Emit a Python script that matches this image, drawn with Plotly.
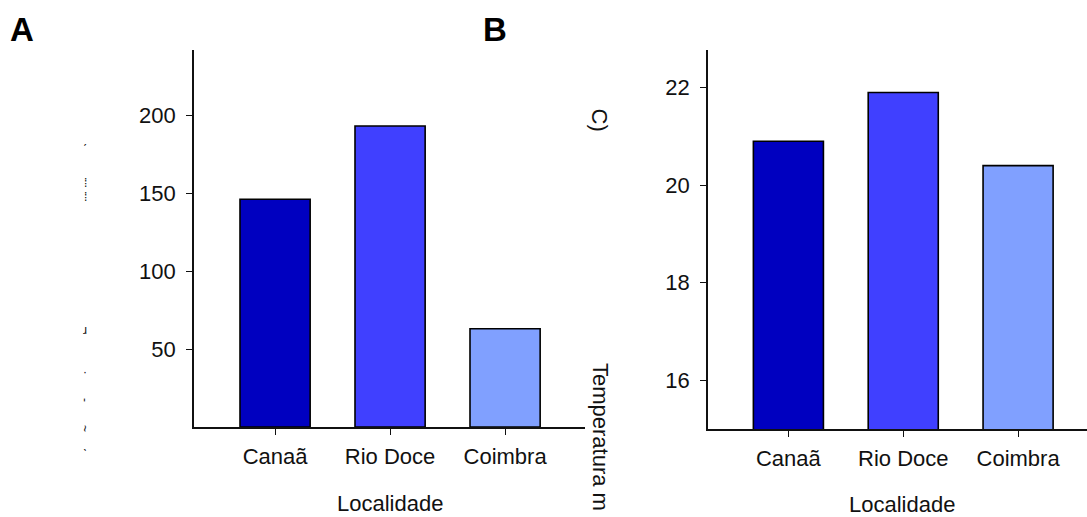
import plotly.graph_objects as go

# Localities and measured values
localidades = ["Canaã", "Rio Doce", "Coimbra"]
valores_a = [146, 193, 63]          # panel A
temperatura_b = [20.9, 21.9, 20.4]  # panel B, mean temperature (°C)
cores = ["#0000C0", "#4040FF", "#80A0FF"]

ticks_a = [50, 100, 150, 200]
ticks_b = [16, 18, 20, 22]

W, H = 1087, 517
FONT = "Liberation Sans, Arial, sans-serif"
FS = 22


def px_x(p):
    return p / W


def px_y(p):
    return (H - p) / H


fig = go.Figure()

fig.add_trace(go.Bar(
    x=localidades, y=valores_a, xaxis="x", yaxis="y",
    marker=dict(color=cores, line=dict(color="black", width=1.6)),
    width=0.61, showlegend=False,
))
fig.add_trace(go.Bar(
    x=localidades, y=temperatura_b, xaxis="x2", yaxis="y2",
    marker=dict(color=cores, line=dict(color="black", width=1.6)),
    width=0.61, showlegend=False,
))

axis_common = dict(
    showgrid=False, zeroline=False, showline=True, linecolor="#111111",
    linewidth=1.6, ticks="outside", ticklen=6, tickwidth=1.2,
    tickcolor="#111111", tickfont=dict(family=FONT, size=FS, color="#111111"),
)

fig.update_layout(
    width=W, height=H,
    margin=dict(l=0, r=0, t=0, b=0),
    paper_bgcolor="white", plot_bgcolor="white",
    font=dict(family=FONT, color="#111111"),
    bargap=0.39,
    xaxis=dict(
        domain=[px_x(194), px_x(585)], anchor="y",
        range=[-0.705, 2.695], ticklabelstandoff=3,
        **axis_common,
    ),
    yaxis=dict(
        domain=[px_y(427), px_y(50)], anchor="x",
        range=[0, 241.7], tickvals=ticks_a, ticklabelstandoff=6,
        **axis_common,
    ),
    xaxis2=dict(
        domain=[px_x(708), 1.0], anchor="y2",
        range=[-0.70, 2.60], ticklabelstandoff=3,
        **axis_common,
    ),
    yaxis2=dict(
        domain=[px_y(429), px_y(50)], anchor="x2",
        range=[15.0, 22.77], tickvals=ticks_b, ticklabelstandoff=6,
        **axis_common,
    ),
)

annotations = [
    # panel letters
    dict(text="<b>A</b>", x=px_x(8), y=px_y(9), xanchor="left", yanchor="top",
         font=dict(size=33, family=FONT, color="black")),
    dict(text="<b>B</b>", x=px_x(481), y=px_y(9), xanchor="left", yanchor="top",
         font=dict(size=33, family=FONT, color="black")),
    # x-axis titles
    dict(text="Localidade", x=px_x(390), y=px_y(503), xanchor="center", yanchor="middle",
         font=dict(size=FS, family=FONT, color="#111111")),
    dict(text="Localidade", x=px_x(902), y=px_y(504), xanchor="center", yanchor="middle",
         font=dict(size=FS, family=FONT, color="#111111")),
    # fragments of the panel B y-axis title
    dict(text="Temperatura m", textangle=90, x=px_x(600), y=px_y(361),
         xanchor="center", yanchor="top",
         font=dict(size=FS, family=FONT, color="#111111")),
    dict(text="C)", textangle=90, x=px_x(599), y=px_y(106),
         xanchor="center", yanchor="top",
         font=dict(size=FS, family=FONT, color="#111111")),
]

# stray glyph pieces left of panel A's y axis
fragmentos = [("ˊ", 150), ("⁞", 183), ("⁞", 197), ("ɹ", 330), ("·", 372),
              ("-", 400), ("~", 428), ("ˋ", 455)]
for txt, yy in fragmentos:
    annotations.append(dict(
        text=txt, x=px_x(85), y=px_y(yy), xanchor="center", yanchor="middle",
        textangle=90 if txt in ("~", "-") else 0,
        font=dict(size=12, family=FONT, color="#111111"),
    ))

for a in annotations:
    a.update(xref="paper", yref="paper", showarrow=False)
fig.update_layout(annotations=annotations)

fig.write_html("out.html")
